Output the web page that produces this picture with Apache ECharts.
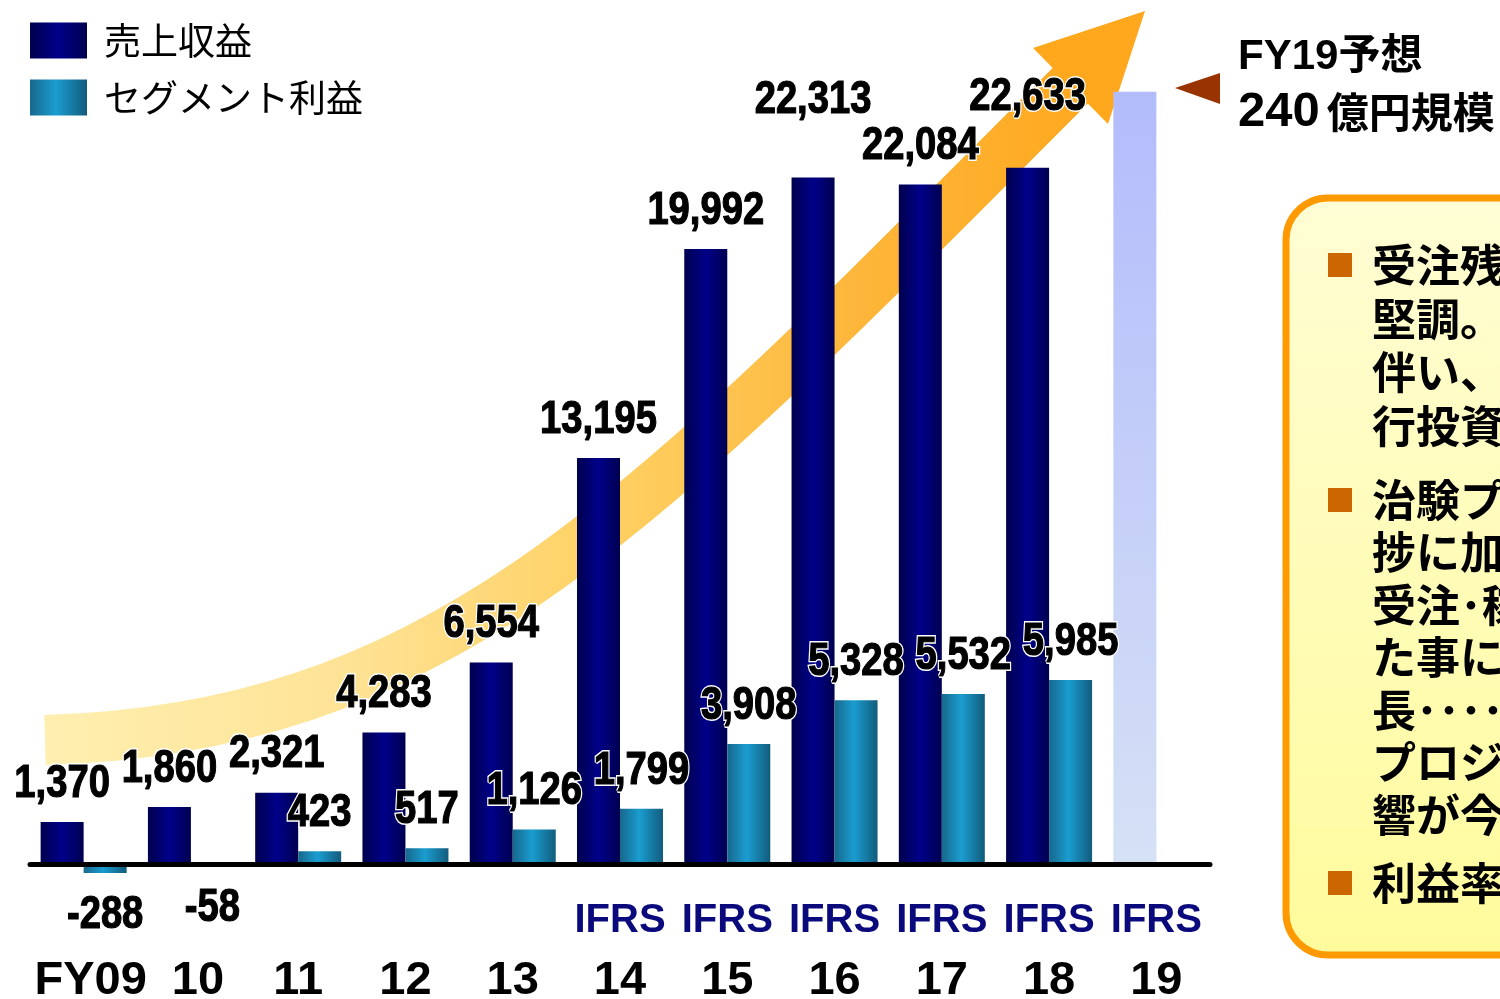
<!DOCTYPE html>
<html>
<head>
<meta charset="utf-8">
<script src="https://cdn.jsdelivr.net/npm/echarts@6/dist/echarts.min.js"></script>
<style>
html, body { margin: 0; padding: 0; background: #fff; }
#chart { width: 1500px; height: 999px; }
</style>
</head>
<body>
<div id="chart"></div>
<script>
var categories = ['FY09', '10', '11', '12', '13', '14', '15', '16', '17', '18', '19'];
var standardLabels = ['', '', '', '', '', 'IFRS', 'IFRS', 'IFRS', 'IFRS', 'IFRS', 'IFRS'];
var revenue = [1370, 1860, 2321, 4283, 6554, 13195, 19992, 22313, 22084, 22633, 25100];
var segmentProfit = [-288, -58, 423, 517, 1126, 1799, 3908, 5328, 5532, 5985, null];
var seriesNames = ['売上収益', 'セグメント利益'];
var forecastTitle = 'FY19予想';
var forecastAmount = '240';
var forecastUnit = '億円規模';
var noteParagraphs = [
    ['受注残高は', '堅調。事業拡大に', '伴い、人材への先', '行投資を実施'],
    ['治験プロジェクトの進', '捗に加え、大型案件の', '受注･稼働が重なっ', 'た事により大きく成', '長･･････', 'プロジェクト遅延の影', '響が今期も継続'],
    ['利益率は改善']
];

var jpFont = "'Liberation Sans', 'Noto Sans CJK JP', sans-serif";
var forecastIndex = 10;
var halfBar = 21.5;
// the two tallest labels sit higher in the original so they don't collide
var revenueLabelLift = { 7: 39, 9: 32 };

function hGrad(stops) {
    return new echarts.graphic.LinearGradient(0, 0, 1, 0, stops);
}

var revenueColor = hGrad([
    { offset: 0, color: '#00004e' },
    { offset: 0.5, color: '#00008a' },
    { offset: 1, color: '#000050' }
]);
var profitColor = hGrad([
    { offset: 0, color: '#17688c' },
    { offset: 0.45, color: '#1a9dd0' },
    { offset: 1, color: '#125c7c' }
]);
var forecastColor = new echarts.graphic.LinearGradient(0, 0, 0, 1, [
    { offset: 0, color: '#b3bcfb' },
    { offset: 1, color: '#d5e1f5' }
]);

function labelText(text, fill, stroke, width) {
    return {
        type: 'text',
        style: {
            text: text,
            fontSize: 46,
            fontWeight: 'bold',
            fontFamily: "'Liberation Sans', sans-serif",
            fill: fill,
            stroke: stroke,
            lineWidth: width,
            align: 'center',
            verticalAlign: 'middle'
        }
    };
}

// value labels are squeezed horizontally like the narrow font of the original
function valueLabels(values, side, lift, skip) {
    return function (params, api) {
        var i = params.dataIndex;
        var v = values[i];
        if (v === null || i === skip) return null;
        var pt = api.coord([i, v]);
        var y = v >= 0 ? pt[1] - 38 - (lift[i] || 0) : pt[1] + 42;
        var s = echarts.format.addCommas(v);
        return {
            type: 'group',
            x: pt[0] + side * halfBar,
            y: y,
            scaleX: 0.83,
            children: [
                labelText(s, '#fff', '#fff', 4),
                labelText(s, '#000', '#000', 1.2)
            ]
        };
    };
}

var revenueData = revenue.map(function (v, i) {
    if (i === forecastIndex) {
        return { value: v, itemStyle: { color: forecastColor } };
    }
    return v;
});

function noteTexts() {
    var out = [];
    var tops = [239, 474, 857];
    var heights = [53.5, 52.5, 52];
    noteParagraphs.forEach(function (lines, k) {
        out.push({
            type: 'rect',
            z: 11,
            shape: { x: 1328, y: tops[k] + 14, width: 24, height: 24 },
            style: { fill: '#cc6600' }
        });
        out.push({
            type: 'text',
            z: 11,
            style: {
                text: lines.join('\n'),
                x: 1372,
                y: tops[k],
                fontSize: 44,
                lineHeight: heights[k],
                fontWeight: 'bold',
                fontFamily: "'Noto Sans CJK JP', sans-serif",
                fill: '#000',
                verticalAlign: 'top'
            }
        });
    });
    return out;
}

var axisFont = "'Liberation Sans', sans-serif";

var option = {
    animation: false,
    backgroundColor: '#fff',
    legend: {
        data: seriesNames,
        orient: 'vertical',
        left: 30,
        top: 22,
        padding: 0,
        itemWidth: 57,
        itemHeight: 36,
        itemGap: 20,
        icon: 'rect',
        textStyle: {
            fontSize: 37,
            color: '#000',
            fontFamily: "'Noto Sans CJK JP', sans-serif",
            padding: [0, 0, 0, 12]
        }
    },
    grid: { left: 30, right: 290, top: 64, bottom: 104, containLabel: false, outerBoundsMode: 'none' },
    xAxis: {
        type: 'category',
        data: categories,
        z: 3,
        axisTick: { show: false },
        axisLine: { lineStyle: { color: '#000', width: 5 } },
        axisLabel: {
            interval: 0,
            margin: -4,
            formatter: function (value, idx) {
                var key = idx < 2 ? 'p' : 'c';
                return '{s|' + (standardLabels[idx] || ' ') + '}\n{' + key + '|' + value + '}';
            },
            rich: {
                s: { fontSize: 40, fontWeight: 'bold', color: '#0a0a7c', lineHeight: 60, fontFamily: axisFont },
                c: { fontSize: 47, fontWeight: 'bold', color: '#000', lineHeight: 60, fontFamily: axisFont },
                p: { fontSize: 47, fontWeight: 'bold', color: '#000', lineHeight: 60, fontFamily: axisFont, padding: [0, 0, 0, 14] }
            }
        }
    },
    yAxis: {
        type: 'value',
        show: false,
        min: -1000,
        max: 26000,
        splitLine: { show: false }
    },
    series: [
        {
            name: seriesNames[0],
            type: 'bar',
            barWidth: 43,
            barGap: '0%',
            itemStyle: { color: revenueColor },
            data: revenueData
        },
        {
            name: seriesNames[1],
            type: 'bar',
            barWidth: 43,
            barGap: '0%',
            itemStyle: { color: profitColor },
            data: segmentProfit
        },
        {
            name: 'revenueLabels',
            type: 'custom',
            z: 5,
            clip: false,
            renderItem: valueLabels(revenue, -1, revenueLabelLift, forecastIndex),
            data: revenue.map(function (v, i) { return [i, v]; })
        },
        {
            name: 'profitLabels',
            type: 'custom',
            z: 5,
            clip: false,
            renderItem: valueLabels(segmentProfit, 1, {}, -1),
            data: segmentProfit.map(function (v, i) { return [i, v === null ? 0 : v]; })
        }
    ],
    graphic: [
        {
            type: 'bezierCurve',
            z: 1,
            shape: { x1: 45, y1: 740, cpx1: 450, cpy1: 728, cpx2: 650, cpy2: 506, x2: 1072, y2: 84 },
            style: {
                fill: null,
                lineWidth: 50,
                lineCap: 'butt',
                stroke: new echarts.graphic.LinearGradient(0, 0, 1, 0, [
                    { offset: 0, color: '#fff0b2' },
                    { offset: 0.3, color: '#fee396' },
                    { offset: 0.55, color: '#fed062' },
                    { offset: 0.78, color: '#fdb63a' },
                    { offset: 1, color: '#ffa81e' }
                ])
            }
        },
        {
            type: 'polygon',
            z: 1,
            shape: { points: [[1033, 48], [1145, 11], [1108, 124]] },
            style: { fill: '#ffa81e' }
        },
        {
            type: 'polygon',
            z: 10,
            shape: { points: [[1175, 88], [1220, 73], [1220, 104]] },
            style: { fill: '#993300' }
        },
        {
            type: 'text',
            z: 10,
            style: {
                text: forecastTitle,
                x: 1238, y: 57,
                fontSize: 42, fontWeight: 'bold',
                fontFamily: jpFont,
                fill: '#000',
                verticalAlign: 'middle'
            }
        },
        {
            type: 'text',
            z: 10,
            style: {
                text: '{a|' + forecastAmount + '}{b|' + forecastUnit + '}',
                x: 1238, y: 112,
                verticalAlign: 'middle',
                rich: {
                    a: { fontSize: 49, fontWeight: 'bold', fontFamily: axisFont, fill: '#000', color: '#000' },
                    b: { fontSize: 42, fontWeight: 'bold', fontFamily: "'Noto Sans CJK JP', sans-serif", fill: '#000', color: '#000', padding: [0, 0, 0, 7] }
                }
            }
        },
        {
            type: 'rect',
            z: 10,
            shape: { x: 1286, y: 198, width: 400, height: 757, r: 42 },
            style: {
                fill: new echarts.graphic.LinearGradient(0, 0, 0, 1, [
                    { offset: 0, color: '#fffdd4' },
                    { offset: 1, color: '#fffb9c' }
                ]),
                stroke: '#ff9900',
                lineWidth: 7
            }
        }
    ].concat(noteTexts())
};

var myChart = echarts.init(document.getElementById('chart'));
myChart.setOption(option);
</script>
</body>
</html>
